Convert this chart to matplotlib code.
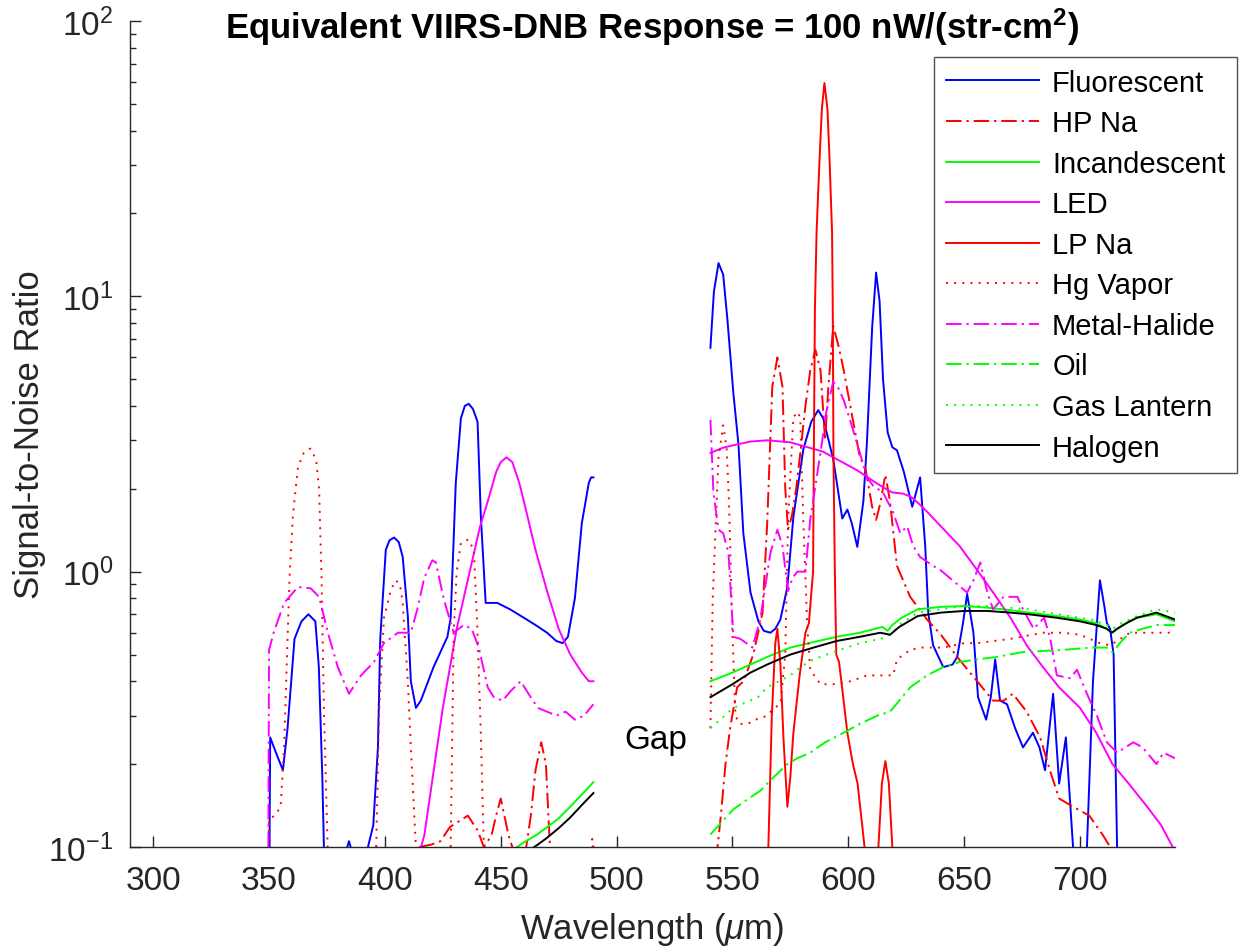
import numpy as np
import matplotlib
matplotlib.use("Agg")
import matplotlib.pyplot as plt

plt.rcParams["font.family"] = ["Liberation Sans", "DejaVu Sans"]
plt.rcParams["mathtext.fontset"] = "custom"
plt.rcParams["mathtext.rm"] = "Liberation Sans"
plt.rcParams["mathtext.it"] = "Liberation Sans:italic"
plt.rcParams["mathtext.bf"] = "Liberation Sans:bold"

# --- data: wavelength (nm) and SNR, two bands separated by the gap ---
fluor_wl_a = [350, 350.5, 353, 356, 358, 361, 364, 367, 370, 371.5, 373, 374.5,
              380, 383, 384.5, 386, 390, 392.7, 395, 397, 398, 400.4, 402, 404, 406, 407.7,
              409.9, 411.2, 413.4, 415.5, 421, 427, 428.4, 430.6, 432.8, 434.5, 436.2, 438, 440, 441.4,
              443.5, 448.5, 454, 460, 465, 470, 474, 476.7, 479, 482, 485, 488, 489, 490]
fluor_snr_a = [0.05, 0.25, 0.22, 0.19, 0.27, 0.57, 0.66, 0.70, 0.66, 0.45, 0.18, 0.05,
               0.05, 0.095, 0.105, 0.095, 0.08, 0.10, 0.12, 0.23, 0.57, 1.2, 1.3, 1.33, 1.28, 1.13,
               0.69, 0.40, 0.32, 0.34, 0.45, 0.58, 0.68, 2.1, 3.6, 4.0, 4.07, 3.9, 3.5, 1.6,
               0.77, 0.77, 0.73, 0.68, 0.64, 0.6, 0.56, 0.55, 0.58, 0.8, 1.5, 2.1, 2.2, 2.2]
fluor_wl_b = [540.5, 542, 544, 546, 547.8, 550.4, 552.6, 554.7, 557.8, 561.2, 563.5, 566.4,
              568.5, 570.7, 573.7, 576.3, 580.6, 584, 587, 589.2, 591.5, 593.5, 597.4, 599.6,
              601.5, 603.9, 606.5, 608, 610.3, 612, 613.5, 615, 617, 619, 621, 624,
              627.6, 631, 633.2, 634.5, 636.6, 641, 645, 647, 649.5, 651.3, 654, 656,
              659.5, 661.5, 663.4, 665.5, 668.5, 672, 675.4, 679.7, 682.5, 684.9, 688.4, 691,
              693.9, 697, 700, 703, 705.6, 708.6, 710.5, 711.6, 713, 714.5, 716, 716.5]
fluor_snr_b = [6.5, 10.4, 13.2, 12.0, 8.3, 4.45, 2.9, 1.38, 0.84, 0.66, 0.61, 0.60,
               0.62, 0.67, 0.88, 1.58, 2.78, 3.5, 3.86, 3.6, 3.0, 2.56, 1.56, 1.68,
               1.5, 1.23, 1.8, 2.9, 7.7, 12.2, 9.6, 4.98, 3.2, 2.83, 2.76, 2.3,
               1.72, 2.2, 1.24, 0.71, 0.54, 0.45, 0.46, 0.49, 0.65, 0.83, 0.6, 0.35,
               0.29, 0.35, 0.48, 0.34, 0.33, 0.27, 0.23, 0.26, 0.23, 0.19, 0.36, 0.17,
               0.25, 0.1, 0.05, 0.1, 0.40, 0.93, 0.75, 0.65, 0.62, 0.5, 0.1, 0.05]

hpna_wl_a = [412, 415, 420, 424, 428, 435.8, 440, 442.7, 446, 448, 450, 453.4,
             455, 457, 459.5, 461, 463, 465, 467.5, 469.5, 471, 473]
hpna_snr_a = [0.05, 0.1, 0.102, 0.105, 0.118, 0.13, 0.115, 0.1, 0.11, 0.13, 0.15, 0.11,
              0.1, 0.08, 0.08, 0.1, 0.13, 0.19, 0.24, 0.2, 0.11, 0.05]
hpna_wl_b = [543, 545, 547, 549, 552, 554.8, 559, 563, 565, 567.2, 569.4, 571.6,
             572.8, 574, 575.7, 577.5, 579.3, 581.5, 583.6, 585.8, 588, 590, 591.4, 593.5,
             596, 598, 602, 605, 607.3, 610.3, 612, 613.8, 616, 618, 621, 626.7,
             634, 640, 647, 655.6, 662.5, 667, 671, 677, 682.8, 687, 691, 697,
             704, 710, 713, 716]
hpna_snr_b = [0.09, 0.13, 0.2, 0.27, 0.38, 0.4, 0.5, 0.71, 1.5, 4.7, 6.0, 4.7,
              2.0, 1.42, 1.6, 2.0, 2.7, 4.0, 5.4, 6.4, 5.4, 3.0, 4.7, 7.8,
              6.5, 5.4, 3.55, 2.6, 2.4, 1.72, 1.54, 1.77, 2.25, 1.8, 1.05, 0.81,
              0.67, 0.59, 0.49, 0.40, 0.34, 0.34, 0.36, 0.31, 0.25, 0.19, 0.15, 0.14,
              0.13, 0.11, 0.1, 0.05]

incand_wl_a = [455, 457, 460, 465, 470, 475, 480, 485, 490]
incand_snr_a = [0.094, 0.1, 0.104, 0.11, 0.118, 0.127, 0.14, 0.155, 0.172]
incand_wl_b = [540.5, 550, 557.8, 565, 575, 585, 595, 605, 614.7, 617, 619, 623,
               630, 640, 650, 660, 670, 678, 690, 700, 707, 711.6, 713.8, 716,
               720, 724.6, 733, 741]
incand_snr_b = [0.40, 0.43, 0.46, 0.49, 0.53, 0.555, 0.58, 0.60, 0.63, 0.61, 0.64, 0.68,
                0.73, 0.745, 0.75, 0.74, 0.725, 0.71, 0.69, 0.67, 0.65, 0.62, 0.6, 0.62,
                0.65, 0.68, 0.70, 0.66]

led_wl_a = [414, 417, 425, 431, 436, 441, 444.4, 448, 450, 452.5, 455, 458,
            460, 465, 470, 475, 480, 485, 488, 490]
led_snr_a = [0.09, 0.11, 0.32, 0.62, 0.95, 1.45, 1.8, 2.3, 2.5, 2.6, 2.5, 2.1,
             1.8, 1.2, 0.85, 0.62, 0.5, 0.43, 0.40, 0.40]
led_wl_b = [540.5, 546, 552, 558, 565, 575, 589, 604, 612, 617, 619, 623.7,
            627, 630, 634, 640, 648, 655, 662.5, 670, 677, 684, 691, 700,
            707, 714, 721, 729, 735, 740]
led_snr_b = [2.7, 2.82, 2.9, 2.97, 3.0, 2.95, 2.73, 2.33, 2.1, 1.98, 1.94, 1.92,
             1.87, 1.78, 1.65, 1.46, 1.24, 1.03, 0.84, 0.68, 0.54, 0.45, 0.38, 0.32,
             0.26, 0.2, 0.17, 0.14, 0.12, 0.1]

lpna_wl = [564, 565.5, 567, 568.5, 569.4, 570.7, 572, 573.7, 575, 576.3, 579, 581.5,
           583, 584.8, 585.1, 585.6, 586.3, 587.6, 588.6, 589.7, 591, 591.9, 593, 593.3,
           593.6, 594.2, 594.8, 596, 597, 599.6, 602, 604, 606, 607, 608, 612,
           613, 614.5, 616, 617.5, 619, 620]
lpna_snr = [0.05, 0.1, 0.3, 0.55, 0.62, 0.46, 0.25, 0.14, 0.18, 0.26, 0.42, 0.6,
            0.65, 1.0, 2.5, 9, 17, 31.6, 48, 59.5, 48, 31.6, 17, 9,
            2.6, 1.0, 0.5, 0.47, 0.4, 0.26, 0.2, 0.17, 0.12, 0.1, 0.05, 0.05,
            0.1, 0.17, 0.205, 0.17, 0.1, 0.05]

hg_wl_a = [349.6, 350, 352.5, 355, 356.5, 358.8, 360.3, 362.5, 365, 367.8, 370.3, 371.6,
           372.7, 373.7, 375.3, 376, 395.5, 397.5, 399.6, 402.6, 404.7, 406.5, 407.7, 409.9,
           411.2, 413.4, 414, 427.5, 428.4, 429.7, 431, 432.8, 436, 438.4, 440, 441.4,
           442.7, 443.5, 488.5, 489.5, 490]
hg_snr_a = [0.05, 0.126, 0.13, 0.14, 0.23, 0.93, 1.6, 2.4, 2.7, 2.8, 2.56, 2.0,
            0.93, 0.31, 0.1, 0.05, 0.05, 0.31, 0.68, 0.86, 0.93, 0.9, 0.77, 0.4,
            0.23, 0.1, 0.05, 0.05, 0.1, 0.6, 1.0, 1.27, 1.31, 1.2, 0.6, 0.26,
            0.1, 0.05, 0.05, 0.107, 0.1]
hg_wl_b = [540.5, 541.5, 542.7, 544, 546, 547.5, 548.5, 550, 551.3, 553, 556.5, 560,
           565, 568, 570.7, 572.8, 574, 576.3, 578.4, 579.3, 580.6, 582.3, 583.6, 588,
           593.5, 601, 608, 615, 619.4, 621, 626.7, 632, 641, 650, 655.6, 670,
           684, 692.7, 700, 708.6, 713, 716, 721.5, 730, 741]
hg_snr_b = [0.27, 0.8, 1.42, 2.6, 3.4, 2.8, 1.8, 0.6, 0.3, 0.28, 0.28, 0.29,
            0.3, 0.32, 0.33, 0.5, 1.53, 3.65, 3.8, 3.55, 1.53, 0.63, 0.44, 0.39,
            0.39, 0.40, 0.42, 0.42, 0.42, 0.48, 0.52, 0.53, 0.53, 0.55, 0.55, 0.57,
            0.6, 0.6, 0.59, 0.55, 0.54, 0.56, 0.6, 0.6, 0.6]

mh_wl_a = [349.6, 350, 352, 356.5, 362.5, 368, 371.6, 375.4, 379.7, 384.5, 389.7, 395.3,
           399.6, 405.6, 411.2, 414, 417, 420.5, 422, 425.5, 429.7, 434, 437.5, 440.5,
           444.4, 447, 450.8, 454.5, 458.6, 462, 466, 470, 474, 478, 482, 486, 490]
mh_snr_a = [0.05, 0.52, 0.6, 0.77, 0.88, 0.87, 0.81, 0.6, 0.45, 0.36, 0.42, 0.47,
            0.55, 0.6, 0.6, 0.73, 0.95, 1.1, 1.08, 0.79, 0.6, 0.64, 0.62, 0.53,
            0.38, 0.35, 0.34, 0.37, 0.40, 0.36, 0.32, 0.31, 0.30, 0.31, 0.29, 0.30, 0.33]
mh_wl_b = [540.5, 541.8, 544, 546, 548.3, 550.4, 553.4, 556, 558.6, 562, 566.4, 569.4,
           571.6, 574, 576, 578, 581.5, 583.6, 586, 588, 590.5, 593.5, 596, 598,
           601, 605, 608, 610.8, 615, 619.4, 622.4, 625.4, 628, 631, 636.6, 640,
           645, 651.3, 654, 657, 660, 662.5, 667, 673, 675.4, 680, 684.5, 687,
           690, 695.7, 698.7, 703, 707.3, 711.6, 716, 723, 727, 733, 736, 741]
mh_snr_b = [3.56, 1.93, 1.42, 1.38, 1.17, 0.58, 0.57, 0.55, 0.53, 0.67, 1.17, 1.42,
            1.24, 0.85, 0.95, 1.0, 1.0, 1.55, 2.1, 2.7, 3.8, 4.9, 4.6, 4.2,
            3.5, 2.7, 2.2, 2.05, 1.94, 1.64, 1.38, 1.46, 1.24, 1.13, 1.05, 1.01,
            0.93, 0.84, 0.93, 1.08, 0.84, 0.73, 0.81, 0.81, 0.73, 0.62, 0.68, 0.58,
            0.42, 0.41, 0.44, 0.36, 0.3, 0.24, 0.22, 0.24, 0.23, 0.2, 0.22, 0.21]

oil_wl = [540.5, 550.4, 556, 562, 568, 573.7, 578, 583.6, 590, 598, 605, 612.5,
          618, 622, 626.7, 634, 641, 648, 655.6, 664, 675, 692.7, 705, 711.6,
          714, 718, 721.5, 727, 733, 741]
oil_snr = [0.111, 0.137, 0.148, 0.16, 0.18, 0.2, 0.21, 0.22, 0.24, 0.26, 0.28, 0.3,
           0.31, 0.34, 0.38, 0.42, 0.45, 0.47, 0.48, 0.49, 0.51, 0.52, 0.53, 0.53,
           0.51, 0.56, 0.6, 0.62, 0.64, 0.64]

gas_wl = [540.5, 550.4, 561, 565, 575, 579.3, 585, 593.5, 605, 613.8, 616.8, 619,
          623, 630, 639.7, 649.6, 660, 678, 695, 705, 711.6, 714, 718, 724.6,
          733, 741]
gas_snr = [0.27, 0.32, 0.35, 0.38, 0.42, 0.45, 0.48, 0.51, 0.55, 0.57, 0.58, 0.6,
           0.65, 0.71, 0.73, 0.75, 0.75, 0.73, 0.69, 0.67, 0.64, 0.62, 0.65, 0.69,
           0.73, 0.71]

halo_wl_a = [462, 466, 470, 475, 480, 485, 490]
halo_snr_a = [0.097, 0.102, 0.108, 0.117, 0.128, 0.142, 0.157]
halo_wl_b = [540.5, 550, 557.8, 565, 575, 585, 595, 605, 613.8, 616, 618, 622,
             630, 640, 650, 660, 670, 678, 690, 700, 707, 711.6, 713.8, 716,
             720, 724.5, 733, 741]
halo_snr_b = [0.35, 0.39, 0.43, 0.46, 0.50, 0.53, 0.56, 0.58, 0.60, 0.595, 0.59, 0.63,
              0.69, 0.71, 0.72, 0.72, 0.71, 0.70, 0.68, 0.66, 0.64, 0.62, 0.6, 0.62,
              0.65, 0.68, 0.71, 0.67]


def join(a, b):
    # NaN breaks the line across the gap between the two bands
    return np.concatenate([a, [np.nan], b])


dashdot = (0, (8, 2.5, 1.2, 2.5))
dotted = (0, (1, 3.2))

series = [
    ("Fluorescent", join(fluor_wl_a, fluor_wl_b), join(fluor_snr_a, fluor_snr_b), "#0000ff", "-"),
    ("HP Na", join(hpna_wl_a, hpna_wl_b), join(hpna_snr_a, hpna_snr_b), "#ff0000", dashdot),
    ("Incandescent", join(incand_wl_a, incand_wl_b), join(incand_snr_a, incand_snr_b), "#00ff00", "-"),
    ("LED", join(led_wl_a, led_wl_b), join(led_snr_a, led_snr_b), "#ff00ff", "-"),
    ("LP Na", lpna_wl, lpna_snr, "#ff0000", "-"),
    ("Hg Vapor", join(hg_wl_a, hg_wl_b), join(hg_snr_a, hg_snr_b), "#ff0000", dotted),
    ("Metal-Halide", join(mh_wl_a, mh_wl_b), join(mh_snr_a, mh_snr_b), "#ff00ff", dashdot),
    ("Oil", oil_wl, oil_snr, "#00ff00", dashdot),
    ("Gas Lantern", gas_wl, gas_snr, "#00ff00", dotted),
    ("Halogen", join(halo_wl_a, halo_wl_b), join(halo_snr_a, halo_snr_b), "#000000", "-"),
]

fig = plt.figure(figsize=(12.5, 9.53), dpi=100)
ax = fig.add_axes([0.104, 0.1102, 0.836, 0.8667])

for label, x, y, c, ls in series:
    ax.plot(x, y, color=c, linestyle=ls, lw=1.4, label=label)

ax.set_yscale("log")
ax.set_xlim(290, 741)
ax.set_ylim(0.1, 100)
ax.set_xticks(range(300, 701, 50))

axc = (0.15, 0.15, 0.15)
for s in ["top", "right"]:
    ax.spines[s].set_visible(False)
for s in ["left", "bottom"]:
    ax.spines[s].set_color(axc)
    ax.spines[s].set_linewidth(1.0)
ax.tick_params(which="both", direction="in", colors=axc, labelsize=24)
ax.tick_params(which="major", length=8, width=1.0)
ax.tick_params(which="minor", length=4, width=1.0)
ax.tick_params(axis="x", pad=13)
ax.tick_params(axis="y", pad=12)

ax.set_xlabel(r"Wavelength ($\mu$m)", fontsize=25, color=axc, labelpad=10)
ax.set_ylabel("Signal-to-Noise Ratio", fontsize=25, color=axc, labelpad=2)

fig.text(0.5216, 0.9717, r"Equivalent VIIRS-DNB Response = 100 nW/(str-cm$^\mathbf{2}$)",
         ha="center", va="center", fontsize=25, fontweight="bold")

ax.text(516.8, 0.246, "Gap", fontsize=24, ha="center", va="center")

leg = fig.legend(loc="upper left", bbox_to_anchor=(0.7472, 0.9391),
                 bbox_transform=fig.transFigure, fontsize=21, frameon=True,
                 fancybox=False, handlelength=3.2, handletextpad=0.45,
                 labelspacing=0.43, borderpad=0.4, borderaxespad=0)
leg.get_frame().set_edgecolor(axc)
leg.get_frame().set_linewidth(1.0)

plt.savefig("out.png", dpi=100)
